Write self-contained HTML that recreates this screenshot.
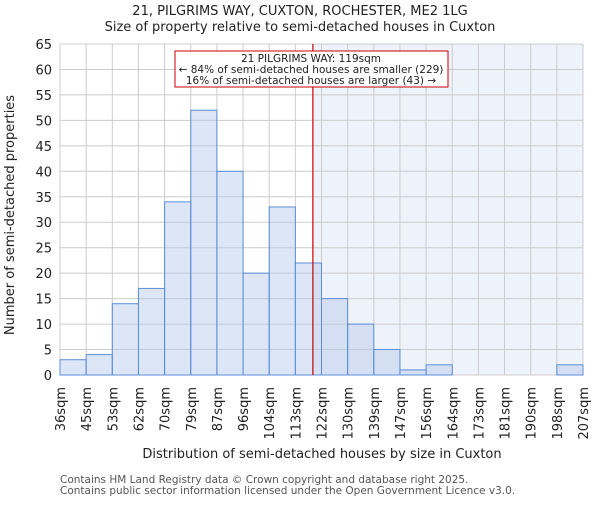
<!DOCTYPE html>
<html><head><meta charset="utf-8"><style>
body{margin:0;background:#fff;}
svg text{font-family:"DejaVu Sans","Liberation Sans",sans-serif;}
</style></head><body>
<svg width="600" height="500" xmlns="http://www.w3.org/2000/svg">
<g id="root"></g>
</svg>
<script>
const categories=["36sqm","45sqm","53sqm","62sqm","70sqm","79sqm","87sqm","96sqm","104sqm","113sqm","122sqm","130sqm","139sqm","147sqm","156sqm","164sqm","173sqm","181sqm","190sqm","198sqm","207sqm"];
const counts=[3,4,14,17,34,52,40,20,33,22,15,10,5,1,2,0,0,0,0,2];
const yTicks=[0,5,10,15,20,25,30,35,40,45,50,55,60,65];
const markerBin=9.67;
const L=60,R=583,T=44,B=375,YMAX=65;
const n=counts.length;
const xs=i=>L+(R-L)*i/n;
const ys=v=>B-(B-T)*v/YMAX;
const NS="http://www.w3.org/2000/svg";
const root=document.getElementById('root');
function mk(tag,attrs,name,txt,parent){const e=document.createElementNS(NS,tag);for(const k in attrs)e.setAttribute(k,attrs[k]);


if(txt!==undefined)e.textContent=txt;(parent||root).appendChild(e);return e;}
const mx=xs(markerBin);
mk('rect',{x:mx,y:T,width:R-mx,height:B-T,fill:'#eef2fb'},'larger-region');
for(const t of yTicks){mk('line',{x1:L,x2:R,y1:ys(t),y2:ys(t),stroke:'#cccccc','stroke-width':1},'y-gridline');
mk('text',{x:L-8,y:ys(t)+5,'text-anchor':'end','font-size':13,fill:'#222'},'y-tick-label',String(t));}
for(let i=0;i<=n;i++){mk('line',{x1:xs(i),x2:xs(i),y1:T,y2:B,stroke:'#cccccc','stroke-width':1},'x-gridline');
const lx=xs(i)+5,ly=B+12;
const g=mk('g',{transform:'translate('+lx+','+ly+') rotate(-90)'},'x-tick-group');
mk('text',{x:0,y:0,'text-anchor':'end','font-size':13,fill:'#222'},'x-tick-label',categories[i],g);}
counts.forEach((v,i)=>{if(v>0)mk('rect',{x:xs(i),y:ys(v),width:xs(i+1)-xs(i),height:B-ys(v),fill:'rgba(180,200,235,0.45)',stroke:'#5b8ed8','stroke-width':1},'bar-'+categories[i]);});
mk('line',{x1:mx,x2:mx,y1:T,y2:B,stroke:'#cc0000','stroke-width':1.2},'marker-line');
mk('rect',{x:175,y:51,width:273,height:36,fill:'#fff',stroke:'#cc0000','stroke-width':1},'annotation-box');
mk('text',{x:311,y:62,'text-anchor':'middle','font-size':10.5,fill:'#222'},'annotation-title','21 PILGRIMS WAY: 119sqm');
mk('text',{x:311,y:73,'text-anchor':'middle','font-size':10.5,fill:'#222'},'annotation-smaller','← 84% of semi-detached houses are smaller (229)');
mk('text',{x:311,y:84,'text-anchor':'middle','font-size':10.5,fill:'#222'},'annotation-larger','16% of semi-detached houses are larger (43) →');
mk('text',{x:300,y:15,'text-anchor':'middle','font-size':13,fill:'#222'},'chart-title','21, PILGRIMS WAY, CUXTON, ROCHESTER, ME2 1LG');
mk('text',{x:300,y:31,'text-anchor':'middle','font-size':13,fill:'#222'},'chart-subtitle','Size of property relative to semi-detached houses in Cuxton');
mk('text',{x:14,y:215,'text-anchor':'middle','font-size':13,fill:'#222',transform:'rotate(-90 14 215)'},'y-axis-title','Number of semi-detached properties');
mk('text',{x:322,y:458,'text-anchor':'middle','font-size':13,fill:'#222'},'x-axis-title','Distribution of semi-detached houses by size in Cuxton');
mk('text',{x:60,y:483,'font-size':10.5,fill:'#555'},'footer-line-1','Contains HM Land Registry data © Crown copyright and database right 2025.');
mk('text',{x:60,y:494,'font-size':10.5,fill:'#555'},'footer-line-2','Contains public sector information licensed under the Open Government Licence v3.0.');
</script>
</body></html>
